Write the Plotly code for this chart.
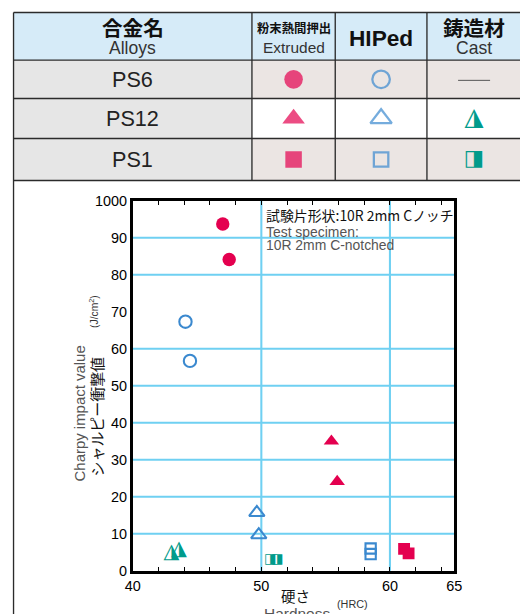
import plotly.graph_objects as go

W, H = 520, 614          # target picture size
FW, FH = 536, 630        # figure size
BODY = 8                 # page body margin around the figure
SX, SY = W / FW, H / FH  # page-to-picture scale
K = 1 / SX               # size compensation for text and markers

# ---------------- data: Charpy impact value (J/cm2) vs hardness (HRC) ----------------
alloys = ["PS6", "PS12", "PS1"]
processes = ["Extruded", "HIPed", "Cast"]

ps6_extruded_hrc = [47.0, 47.5]
ps6_extruded_charpy = [93.7, 84.1]
ps6_hiped_hrc = [44.1, 44.45]
ps6_hiped_charpy = [67.3, 56.7]

ps12_extruded_hrc = [55.45, 55.9]
ps12_extruded_charpy = [35.0, 24.1]
ps12_hiped_hrc = [49.65, 49.8]
ps12_hiped_charpy = [15.7, 9.7]
ps12_cast_hrc = [43.0, 43.6]
ps12_cast_charpy = [4.8, 5.7]

ps1_extruded_hrc = [61.1, 61.45]
ps1_extruded_charpy = [5.9, 4.7]
ps1_hiped_hrc = [58.5, 58.5]
ps1_hiped_charpy = [6.0, 4.5]
ps1_cast_hrc = [50.7, 51.25]
ps1_cast_charpy = [3.1, 3.1]

x_tick_vals = [40, 50, 60, 65]
x_tick_text = ["40", "50", "60", "65"]
y_tick_vals = [0, 10, 20, 30, 40, 50, 60, 70, 80, 90, 100]
y_tick_text = ["0", "10", "20", "30", "40", "50", "60", "70", "80", "90", "1000"]
x_grid_vals = [50, 60]
y_grid_vals = [10, 20, 30, 40, 50, 60, 80, 90]

# ---------------- styles ----------------
RED = "#e4004f"
BLUE = "#3b89cf"
TEAL = "#009b8b"
GRID = "#6fd0f2"
LINE = "#2b2b2b"
JP = "Noto Sans CJK JP"
LAT = "Liberation Sans"

# table geometry (picture pixels)
COL_EDGES = [13.3, 251.7, 335.0, 426.7, W + 8]
ROW_EDGES = [12.3, 60.0, 98.3, 138.3, 180.3]

# chart frame (picture pixels)
PX_LEFT, PX_RIGHT, PX_TOP, PX_BOTTOM = 132.5, 454.0, 200.5, 570.5


def fx(t):
    return (t / SX - BODY) / FW


def fy(t):
    return 1 - (t / SY - BODY) / FH


alloy_symbol = {"PS6": "circle", "PS12": "triangle-up", "PS1": "square"}
half_glyph = {"PS12": "\u25ee", "PS1": "\u25e8"}

fig = go.Figure()

# ---------------- scatter points ----------------
def filled(x, y, alloy, size):
    fig.add_trace(go.Scatter(
        x=x, y=y, mode="markers", xaxis="x", yaxis="y", showlegend=False,
        marker=dict(symbol=alloy_symbol[alloy], size=size * K, color=RED, line=dict(width=0)),
    ))

def hollow(x, y, alloy, size):
    fig.add_trace(go.Scatter(
        x=x, y=y, mode="markers", xaxis="x", yaxis="y", showlegend=False,
        marker=dict(symbol=alloy_symbol[alloy] + "-open", size=size * K, color=BLUE,
                    line=dict(width=2 * K, color=BLUE)),
    ))

def half(x, y, alloy, size):
    fig.add_trace(go.Scatter(
        x=x, y=y, mode="text", xaxis="x", yaxis="y", showlegend=False,
        text=[half_glyph[alloy]] * len(x), textposition="middle center",
        textfont=dict(family="DejaVu Sans", size=size * K, color=TEAL),
    ))

filled(ps6_extruded_hrc, ps6_extruded_charpy, "PS6", 13)
hollow(ps6_hiped_hrc, ps6_hiped_charpy, "PS6", 12)
filled(ps12_extruded_hrc, ps12_extruded_charpy, "PS12", 13)
hollow(ps12_hiped_hrc, ps12_hiped_charpy, "PS12", 13)
half(ps12_cast_hrc, ps12_cast_charpy, "PS12", 20)
filled(ps1_extruded_hrc, ps1_extruded_charpy, "PS1", 11.5)
hollow(ps1_hiped_hrc, ps1_hiped_charpy, "PS1", 10)
half(ps1_cast_hrc, ps1_cast_charpy, "PS1", 13)

# ---------------- grid lines ----------------
shapes = []
for v in y_grid_vals:
    shapes.append(dict(type="line", xref="x domain", yref="y", x0=0, x1=1, y0=v, y1=v,
                       line=dict(color=GRID, width=2 * K), layer="below"))
for v in x_grid_vals:
    shapes.append(dict(type="line", xref="x", yref="y domain", x0=v, x1=v, y0=0, y1=1,
                       line=dict(color=GRID, width=2 * K), layer="below"))

# ---------------- table ----------------
header_bg = "#d6ebf8"
name_bg = "#e6e6e6"
cell_bg = ["#ebe5e3", "#ffffff", "#ebe5e3"]

shapes.append(dict(type="rect", xref="x2", yref="y2", x0=COL_EDGES[0], x1=COL_EDGES[-1],
                   y0=ROW_EDGES[0], y1=ROW_EDGES[1], fillcolor=header_bg, line=dict(width=0), layer="below"))
for i in range(len(alloys)):
    shapes.append(dict(type="rect", xref="x2", yref="y2", x0=COL_EDGES[0], x1=COL_EDGES[1],
                       y0=ROW_EDGES[i + 1], y1=ROW_EDGES[i + 2], fillcolor=name_bg,
                       line=dict(width=0), layer="below"))
    shapes.append(dict(type="rect", xref="x2", yref="y2", x0=COL_EDGES[1], x1=COL_EDGES[-1],
                       y0=ROW_EDGES[i + 1], y1=ROW_EDGES[i + 2], fillcolor=cell_bg[i],
                       line=dict(width=0), layer="below"))
for yv in ROW_EDGES:
    shapes.append(dict(type="line", xref="x2", yref="y2", x0=COL_EDGES[0], x1=COL_EDGES[-1],
                       y0=yv, y1=yv, line=dict(color=LINE, width=1.3 * K)))
for xv in COL_EDGES[1:-1]:
    shapes.append(dict(type="line", xref="x2", yref="y2", x0=xv, x1=xv,
                       y0=ROW_EDGES[0], y1=ROW_EDGES[-1], line=dict(color=LINE, width=1.3 * K)))
# outer left border running down the page
shapes.append(dict(type="line", xref="x2", yref="y2", x0=COL_EDGES[0], x1=COL_EDGES[0],
                   y0=ROW_EDGES[0], y1=H + 8, line=dict(color=LINE, width=1.3 * K)))

col_c = [(COL_EDGES[j] + COL_EDGES[j + 1]) / 2 for j in range(len(COL_EDGES) - 1)]
col_c[-1] = (COL_EDGES[-2] + W) / 2 + 0.5
row_c = [(ROW_EDGES[i] + ROW_EDGES[i + 1]) / 2 for i in range(len(ROW_EDGES) - 1)]

# legend symbols inside the table
sym_x, sym_y, sym_s = [], [], []
hol_x, hol_y, hol_s = [], [], []
half_x, half_y, half_t = [], [], []
for i, a in enumerate(alloys):
    sym_x.append(col_c[1]); sym_y.append(row_c[i + 1]); sym_s.append(alloy_symbol[a])
    hol_x.append(col_c[2]); hol_y.append(row_c[i + 1]); hol_s.append(alloy_symbol[a] + "-open")
    if a in half_glyph:
        half_x.append(col_c[3]); half_y.append(row_c[i + 1]); half_t.append(half_glyph[a])

fig.add_trace(go.Scatter(x=sym_x, y=sym_y, mode="markers", xaxis="x2", yaxis="y2", showlegend=False,
                         marker=dict(symbol=sym_s, size=[18 * K, 19 * K, 16 * K], color=RED,
                                     line=dict(width=0))))
fig.add_trace(go.Scatter(x=hol_x, y=hol_y, mode="markers", xaxis="x2", yaxis="y2", showlegend=False,
                         marker=dict(symbol=hol_s, size=[17 * K, 18 * K, 14 * K], color=BLUE,
                                     line=dict(width=2.2 * K, color=BLUE))))
fig.add_trace(go.Scatter(x=half_x, y=half_y, mode="text", xaxis="x2", yaxis="y2", showlegend=False,
                         text=half_t, textposition="middle center",
                         textfont=dict(family="DejaVu Sans", size=[24 * K, 21 * K], color=TEAL)))
# no cast PS6: dash
shapes.append(dict(type="line", xref="x2", yref="y2", x0=col_c[3] - 16, x1=col_c[3] + 16,
                   y0=row_c[1] + 1, y1=row_c[1] + 1, line=dict(color="#555555", width=1)))

annotations = []

def label(x, y, text, size, color="#111111", family=LAT, angle=0, xanchor="center"):
    annotations.append(dict(x=x, y=y, xref="x2", yref="y2", text=text, showarrow=False,
                            xanchor=xanchor, yanchor="middle", textangle=angle,
                            font=dict(family=family, size=size * K, color=color)))

label(col_c[0], 26.5, "<b>合金名</b>", 20, family=JP)
label(col_c[0], 47.5, "Alloys", 17, color="#333333")
label(col_c[1], 27.5, "<b>粉末熱間押出</b>", 12, family=JP)
label(col_c[1], 47.0, "Extruded", 15, color="#333333", family="Liberation Sans Narrow, Liberation Sans")
label(col_c[2], 37.5, "<b>HIPed</b>", 22)
label(col_c[3], 26.5, "<b>鋳造材</b>", 20, family=JP)
label(col_c[3], 47.5, "Cast", 17, color="#333333")
for i, a in enumerate(alloys):
    label(col_c[0], row_c[i + 1], a, 21, color="#222222")

# chart notes and axis titles
label(264, 215, "試験片形状:10R 2mm Cノッチ", 13.5, family=JP, xanchor="left")
label(264, 231.5, "Test specimen:", 13.5, color="#555555", xanchor="left")
label(264, 245, "10R 2mm C-notched", 13.5, color="#555555", xanchor="left")
label(79, 413, "Charpy impact value", 14.5, color="#555555", angle=-90)
label(96.5, 416.5, "シャルピー衝撃値", 14.5, family=JP, angle=-90)
label(92.5, 311, "(J/cm<sup>2</sup>)", 10, color="#333333", angle=-90)
label(295.5, 595, "硬さ", 14, family=JP)
label(296.7, 613, "Hardness", 15, color="#555555")
label(352.5, 603.5, "(HRC)", 10.5, color="#333333")

fig.update_layout(
    width=FW, height=FH, margin=dict(l=0, r=0, t=0, b=0),
    paper_bgcolor="white", plot_bgcolor="rgba(0,0,0,0)",
    shapes=shapes, annotations=annotations, showlegend=False,
    xaxis=dict(
        domain=[fx(PX_LEFT), fx(PX_RIGHT)], range=[40, 65], anchor="y",
        tickvals=x_tick_vals, ticktext=x_tick_text, ticks="",
        showgrid=False, zeroline=False, showline=True, linewidth=2.5 * K, linecolor="black",
        mirror="allticks",
        minor=dict(tick0=40, dtick=2, ticks="inside", ticklen=4 * K, tickwidth=1 * K,
                   tickcolor="black", showgrid=False),
        tickfont=dict(family=LAT, size=14 * K, color="black"),
    ),
    yaxis=dict(
        domain=[fy(PX_BOTTOM), fy(PX_TOP)], range=[0, 100], anchor="x",
        tickvals=y_tick_vals, ticktext=y_tick_text, ticks="",
        showgrid=False, zeroline=False, showline=True, linewidth=2.5 * K, linecolor="black",
        mirror=True, tickfont=dict(family=LAT, size=14 * K, color="black"),
    ),
    # overlay axes measured in picture pixels, for the table and the free-standing texts
    xaxis2=dict(domain=[0, 1], range=[SX * BODY, SX * (FW + BODY)], anchor="y2",
                visible=False, fixedrange=True),
    yaxis2=dict(domain=[0, 1], range=[SY * (FH + BODY), SY * BODY], anchor="x2",
                visible=False, fixedrange=True),
)

fig.write_html("out.html")
